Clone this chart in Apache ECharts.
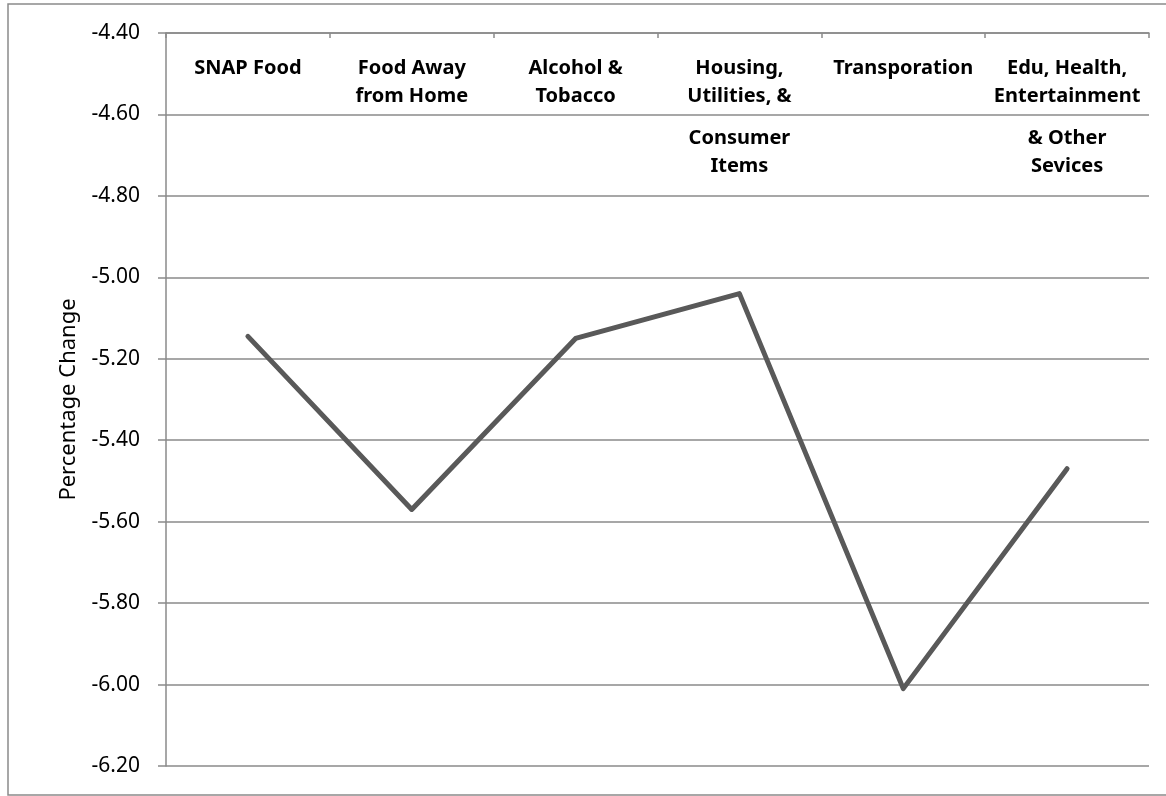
<!DOCTYPE html>
<html>
<head>
<meta charset="utf-8">
<script src="https://cdn.jsdelivr.net/npm/echarts@6/dist/echarts.min.js"></script>
<style>
html,body{margin:0;padding:0;background:#fff;}
#chart{width:1166px;height:796px;}
</style>
</head>
<body>
<div id="chart"></div>
<script>
const categories = [
  "SNAP Food",
  "Food Away\nfrom Home",
  "Alcohol &\nTobacco",
  "Housing,\nUtilities, &\n\nConsumer\nItems",
  "Transporation",
  "Edu, Health,\nEntertainment\n\n& Other\nSevices"
];
const values = [-5.145, -5.57, -5.15, -5.04, -6.01, -5.47];
const yMin = -6.2, yMax = -4.4, yStep = 0.2;
const yAxisTitle = "Percentage Change";

const chart = echarts.init(document.getElementById('chart'));
const gray = '#8a8a8a';
const font = '"Noto Sans", "Open Sans", sans-serif';

function fmtCat(v) {
  return v.split('\n').map(l => l === '' ? '{s| }' : '{b|' + l + '}').join('\n');
}

chart.setOption({
  animation: false,
  backgroundColor: '#fff',
  graphic: [{
    type: 'rect',
    shape: { x: 8, y: 4, width: 1180, height: 791 },
    style: { fill: 'none', stroke: gray, lineWidth: 1.5 },
    silent: true
  }],
  grid: { left: 166, right: 17, top: 33, bottom: 30, containLabel: false },
  xAxis: {
    type: 'category',
    position: 'top',
    data: categories,
    boundaryGap: true,
    axisLine: { show: true, lineStyle: { color: gray, width: 1.5 } },
    axisTick: { show: true, inside: true, length: 5, lineStyle: { color: gray, width: 1.5 } },
    axisLabel: {
      inside: true,
      interval: 0,
      margin: 21,
      verticalAlign: 'top',
      align: 'center',
      formatter: fmtCat,
      rich: {
        b: { fontFamily: font, fontWeight: 'bold', fontSize: 20, lineHeight: 28, color: '#000' },
        s: { fontSize: 1, lineHeight: 14 }
      }
    },
    splitLine: { show: false }
  },
  yAxis: {
    type: 'value',
    min: yMin,
    max: yMax,
    interval: yStep,
    name: yAxisTitle,
    nameLocation: 'middle',
    nameGap: 86,
    nameRotate: 90,
    nameTextStyle: { fontFamily: font, fontSize: 22, color: '#000' },
    axisLine: { show: true, lineStyle: { color: gray, width: 1.5 } },
    axisTick: { show: true, inside: false, length: 8, lineStyle: { color: gray, width: 1.5 } },
    axisLabel: {
      margin: 26,
      fontFamily: font,
      fontSize: 21,
      color: '#000',
      formatter: v => v.toFixed(2)
    },
    splitLine: { show: true, lineStyle: { color: gray, width: 1.5 } }
  },
  series: [{
    type: 'line',
    data: values,
    showSymbol: false,
    symbol: 'none',
    lineStyle: { color: '#595959', width: 5, cap: 'round', join: 'round' }
  }]
});
</script>
</body>
</html>
